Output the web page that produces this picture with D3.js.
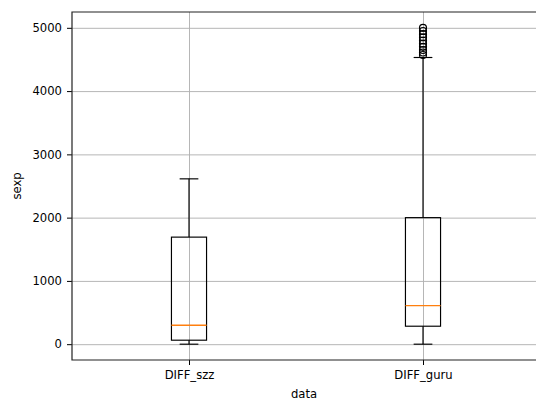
<!DOCTYPE html>
<html>
<head>
<meta charset="utf-8">
<script src="https://d3js.org/d3.v7.min.js"></script>
<style>
  body { margin: 0; background: #fff; }
  .axis text { font-family: 'DejaVu Sans', sans-serif; font-size: 11.6px; fill: #000; }
  .axis path { stroke: none; }
  .axis line { stroke: #000; stroke-width: 1; }
  .grid line { stroke: #b0b0b0; stroke-width: 0.93; }
  .grid path { stroke: none; }
</style>
</head>
<body>
<div id="chart"></div>
<script>
// data
var categories = ['DIFF_szz', 'DIFF_guru'];
var whiskerLow = [0, 0];
var q1 = [63, 284];
var median = [300, 610];
var q3 = [1692, 2000];
var whiskerHigh = [2613, 4531];
var outliersGuru = [4570, 4610, 4650, 4700, 4750, 4800, 4850, 4900, 4950, 5000];
var yTicks = [0, 1000, 2000, 3000, 4000, 5000];

var width = 536, height = 403;
var mLeft = 72, mRight = 540, mTop = 12, mBottom = 360;

var svg = d3.select('#chart').append('svg')
    .attr('width', width)
    .attr('height', height)
    .style('display', 'block');

var x = d3.scaleLinear().domain([0.5, 2.5]).range([mLeft, mRight]);
var y = d3.scaleLinear().domain([-250, 5250]).range([mBottom, mTop]);

// grid
svg.append('g').attr('class', 'grid')
    .attr('transform', 'translate(0,' + mBottom + ')')
    .call(d3.axisBottom(x).tickValues([1, 2]).tickSize(-(mBottom - mTop)).tickFormat(''));
svg.append('g').attr('class', 'grid')
    .attr('transform', 'translate(' + mLeft + ',0)')
    .call(d3.axisLeft(y).tickValues(yTicks).tickSize(-(mRight - mLeft)).tickFormat(''));

// boxes
var boxW = 0.15, capW = 0.08;
categories.forEach(function(c, i) {
    var p = i + 1;
    var g = svg.append('g');
    g.append('line')
        .attr('x1', x(p)).attr('x2', x(p))
        .attr('y1', y(q3[i])).attr('y2', y(whiskerHigh[i]))
        .attr('stroke', '#000').attr('stroke-width', 1.16);
    g.append('line')
        .attr('x1', x(p)).attr('x2', x(p))
        .attr('y1', y(q1[i])).attr('y2', y(whiskerLow[i]))
        .attr('stroke', '#000').attr('stroke-width', 1.16);
    [whiskerHigh[i], whiskerLow[i]].forEach(function(v) {
        g.append('line')
            .attr('x1', x(p - capW / 2)).attr('x2', x(p + capW / 2))
            .attr('y1', y(v)).attr('y2', y(v))
            .attr('stroke', '#000').attr('stroke-width', 1.16);
    });
    g.append('rect')
        .attr('x', x(p - boxW / 2))
        .attr('y', y(q3[i]))
        .attr('width', x(p + boxW / 2) - x(p - boxW / 2))
        .attr('height', y(q1[i]) - y(q3[i]))
        .attr('fill', 'none').attr('stroke', '#000').attr('stroke-width', 1.16);
    g.append('line')
        .attr('x1', x(p - boxW / 2)).attr('x2', x(p + boxW / 2))
        .attr('y1', y(median[i])).attr('y2', y(median[i]))
        .attr('stroke', '#ff7f0e').attr('stroke-width', 1.4);
});

svg.selectAll('.flier').data(outliersGuru).enter().append('circle')
    .attr('class', 'flier')
    .attr('cx', x(2))
    .attr('cy', function(d) { return y(d); })
    .attr('r', 3.5)
    .attr('fill', 'none').attr('stroke', '#000').attr('stroke-width', 1.16);

// axes
svg.append('g').attr('class', 'axis')
    .attr('transform', 'translate(0,' + mBottom + ')')
    .call(d3.axisBottom(x).tickValues([1, 2]).tickSize(5).tickPadding(6)
        .tickFormat(function(d) { return categories[d - 1]; }));
svg.append('g').attr('class', 'axis')
    .attr('transform', 'translate(' + mLeft + ',0)')
    .call(d3.axisLeft(y).tickValues(yTicks).tickSize(5).tickPadding(5).tickFormat(d3.format('d')));

// frame
svg.append('path')
    .attr('d', 'M' + mRight + ',' + mTop + 'H' + mLeft + 'V' + mBottom + 'H' + mRight)
    .attr('fill', 'none').attr('stroke', '#222').attr('stroke-width', 1.2);

svg.append('text')
    .attr('x', (mLeft + mRight) / 2 - 2).attr('y', 398)
    .attr('text-anchor', 'middle')
    .style('font-family', 'DejaVu Sans, sans-serif').style('font-size', '11.6px')
    .text('data');
svg.append('text')
    .attr('transform', 'translate(21,' + ((mTop + mBottom) / 2) + ') rotate(-90)')
    .attr('text-anchor', 'middle')
    .style('font-family', 'DejaVu Sans, sans-serif').style('font-size', '11.6px')
    .text('sexp');
</script>
</body>
</html>
